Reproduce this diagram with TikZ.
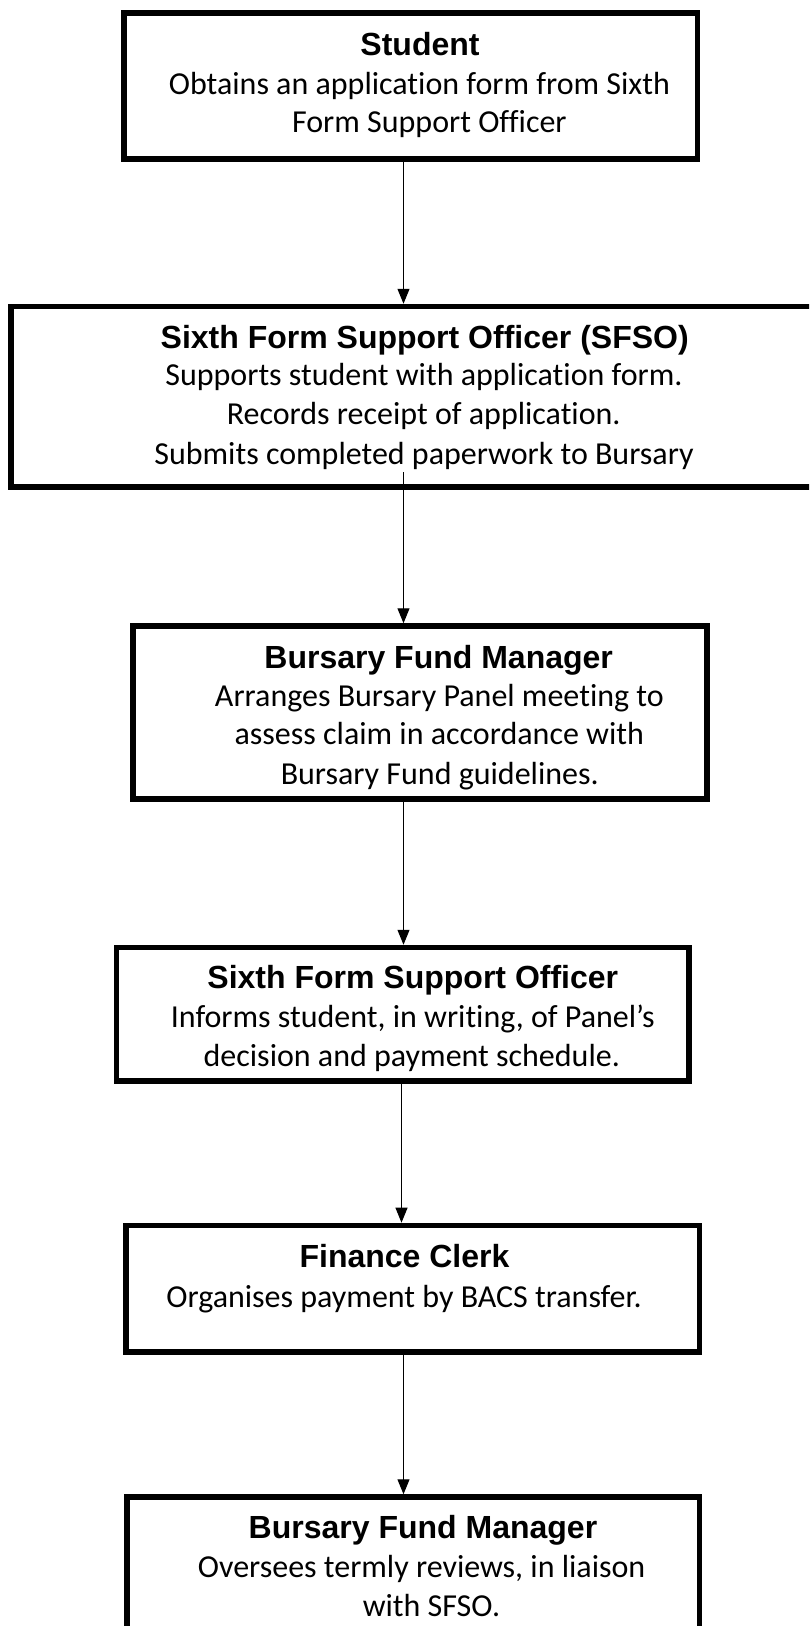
\documentclass[tikz,border=0pt]{standalone}
\usepackage{fontspec}
\setmainfont{Carlito}[Ligatures=NoCommon]
\newfontfamily\headfont{Liberation Sans}
\usetikzlibrary{arrows.meta}
\begin{document}
\begin{tikzpicture}[x=1pt,y=-1pt,
  box/.style={draw=black, line width=5.5pt, rectangle, inner sep=0pt},
  head/.style={anchor=base, inner sep=0pt, font=\headfont\bfseries\fontsize{32}{38.4}\selectfont},
  body/.style={anchor=base, inner sep=0pt, font=\fontsize{32}{38.4}\selectfont},
  arr/.style={draw=black, line width=1.1pt, -{Triangle[length=15pt,width=12pt]}}]
\useasboundingbox (0,0) rectangle (809,1626);
\clip (0,0) rectangle (809,1626);
% boxes
\node[box, minimum width=573.5pt, minimum height=146pt] (b1) at (410.75,86) {};
\node[box, minimum width=819pt, minimum height=180.5pt] (b2) at (420.5,396.75) {};
\node[box, minimum width=574pt, minimum height=173pt] (b3) at (420,712.5) {};
\node[box, minimum width=572.3pt, minimum height=133.5pt] (b4) at (402.85,1014.25) {};
\node[box, minimum width=573.6pt, minimum height=126.6pt] (b5) at (412.8,1288.7) {};
\node[box, minimum width=572.6pt, minimum height=203pt] (b6) at (413.3,1598.5) {};
% texts
\node[head] (h1) at (420,55.6) {Student};
\node[body] (t1a) at (419.5,94) {Obtains an application form from Sixth};
\node[body] (t1b) at (429.4,132) {Form Support Officer};
\node[head] (h2) at (424.7,348) {Sixth Form Support Officer (SFSO)};
\node[body] (t2a) at (424,385.4) {Supports student with application form.};
\node[body] (t2b) at (423.7,424.8) {Records receipt of application.};
\node[body] (t2c) at (424,464) {Submits completed paperwork to Bursary};
\node[head] (h3) at (438.7,668.6) {Bursary Fund Manager};
\node[body] (t3a) at (439.3,706) {Arranges Bursary Panel meeting to};
\node[body] (t3b) at (439.3,744.3) {assess claim in accordance with};
\node[body] (t3c) at (439.8,784.8) {Bursary Fund guidelines.};
\node[head] (h4) at (412.8,988) {Sixth Form Support Officer};
\node[body] (t4a) at (412.8,1027.5) {Informs student, in writing, of Panel’s};
\node[body] (t4b) at (411.8,1066.9) {decision and payment schedule.};
\node[head] (h5) at (404.5,1267) {Finance Clerk};
\node[body] (t5a) at (404,1307.5) {Organises payment by BACS transfer.};
\node[head] (h6) at (423,1538.8) {Bursary Fund Manager};
\node[body] (t6a) at (421.6,1577) {Oversees termly reviews, in liaison};
\node[body] (t6b) at (431.5,1616.6) {with SFSO.};
% connectors
\coordinate (ax) at (403.5,0);
\coordinate (ax4) at (401.5,0);
\coordinate (s2) at (403.5,472);
\draw[arr] (b1.south -| ax) -- (b2.north -| ax);
\draw[arr] (s2) -- (b3.north -| ax);
\draw[arr] (b3.south -| ax) -- (b4.north -| ax);
\draw[arr] (b4.south -| ax4) -- (b5.north -| ax4);
\draw[arr] (b5.south -| ax) -- (b6.north -| ax);
\end{tikzpicture}
\end{document}
